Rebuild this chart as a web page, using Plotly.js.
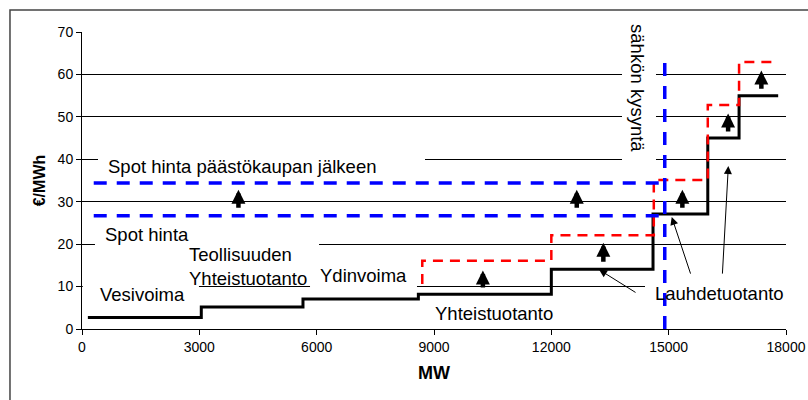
<!DOCTYPE html>
<html>
<head>
<meta charset="utf-8">
<script src="https://cdn.plot.ly/plotly-3.0.1.min.js"></script>
<style>html,body{margin:0;padding:0;background:#fff;}#chart{width:808px;height:400px;}</style>
</head>
<body>
<div id="chart"></div>
<script>
// ---- data ----
const xTickVals = [0, 3000, 6000, 9000, 12000, 15000, 18000];
const xTickText = ['0', '3000', '6000', '9000', '12000', '15000', '18000'];
const yTickVals = [0, 10, 20, 30, 40, 50, 60, 70];

// supply curve before emissions trading (step points, MW / €/MWh)
const supplyX = [150, 3050, 5650, 8600, 12000, 14600, 16000, 16800, 17800];
const supplyY = [2.7, 5.2, 7.1, 8.2, 14.1, 27.1, 45.0, 55.0, 55.0];

// supply curve after emissions trading
const emissionX = [8700, 12000, 14620, 16000, 16800, 17800];
const emissionY = [10.6, 16.1, 22.1, 35.1, 52.8, 62.9];

// spot prices and demand
const spotAfterX = [300, 14900];
const spotAfterY = [34.4, 34.4];
const spotX = [300, 14900];
const spotY = [26.7, 26.7];
const demandX = [14900, 14900];
const demandY = [0, 63];

// price-rise arrows: x, tail value, tip value
const riseX = [4000, 12650, 15350, 10250, 13330, 16520, 17370];
const riseFrom = [28.2, 28.2, 28.2, 9.4, 15.5, 46.2, 56.3];
const riseTo = [32.8, 32.8, 32.8, 13.8, 20.3, 50.8, 60.9];

// labels
const labels = ['Spot hinta päästökaupan jälkeen', 'Spot hinta', 'Teollisuuden<br>Yhteistuotanto',
  'Vesivoima', 'Ydinvoima', 'Yhteistuotanto', 'Lauhdetuotanto'];
const demandLabel = 'sähkön kysyntä';

// ---- chart ----
const FONT = 'Liberation Sans, Arial, sans-serif';

const traces = [
  {x: supplyX, y: supplyY, mode: 'lines', line: {shape: 'hv', color: '#000', width: 3}, hoverinfo: 'skip'},
  {x: emissionX, y: emissionY, mode: 'lines', line: {shape: 'vh', color: '#ff0000', width: 2.5, dash: '10px,7px'}, hoverinfo: 'skip'},
  {x: spotAfterX, y: spotAfterY, mode: 'lines', line: {color: '#0000ff', width: 3.5, dash: '13px,10px'}, hoverinfo: 'skip'},
  {x: spotX, y: spotY, mode: 'lines', line: {color: '#0000ff', width: 3.5, dash: '13px,10px'}, hoverinfo: 'skip'},
  {x: demandX, y: demandY, mode: 'lines', line: {color: '#0000ff', width: 3.5, dash: '13px,10px'}, hoverinfo: 'skip'}
];

// white text boxes that interrupt gridlines (below traces)
function mask(x0, x1, y0, y1) {
  return {type: 'rect', xref: 'x', yref: 'y', x0: x0, x1: x1, y0: y0, y1: y1,
    fillcolor: '#ffffff', line: {width: 0}, layer: 'between'};
}
const shapes = [
  mask(13807, 14676, 39, 72),
  mask(409, 8770, 36.5, 41.5),
  mask(332, 6060, 19, 21),
  mask(20, 2990, 9.2, 10.8),
  mask(5830, 8565, 9.2, 10.8),
  mask(14395, 18100, 9.2, 10.8),
  {type: 'rect', xref: 'paper', yref: 'paper', x0: -0.1023, x1: 1.04, y0: -0.26, y1: 1.0741,
    line: {color: '#444', width: 1.5}, fillcolor: 'rgba(0,0,0,0)', layer: 'above'}
];

const labelPos = [
  [614, 38.3], [537, 22.3], [2685, 14.65], [409, 8.23], [6034, 12.72], [8974, 3.59], [14600, 8.3]
];
const annotations = labels.map((t, i) => ({
  text: t, x: labelPos[i][0], y: labelPos[i][1], xref: 'x', yref: 'y',
  xanchor: 'left', yanchor: 'middle', align: 'left', showarrow: false,
  font: {family: FONT, size: 18.5, color: '#000'}
}));
annotations.push({
  text: demandLabel, x: 14203, y: 56.9, xref: 'x', yref: 'y', textangle: 90,
  xanchor: 'center', yanchor: 'middle', showarrow: false,
  font: {family: FONT, size: 18.5, color: '#000'}
});
riseX.forEach((x, i) => annotations.push({
  text: '', x: x, y: riseTo[i], ax: x, ay: riseFrom[i], xref: 'x', yref: 'y', axref: 'x', ayref: 'y',
  showarrow: true, arrowhead: 2, arrowwidth: 4.5, arrowsize: 0.62, arrowcolor: '#000'
}));
// thin pointer arrows: tail -> tip
const pointers = [
  [14191, 8.4, 13219, 14.0],
  [15572, 12.7, 15078, 26.4],
  [16372, 12.7, 16526, 38.4]
];
pointers.forEach(p => annotations.push({
  text: '', x: p[2], y: p[3], ax: p[0], ay: p[1], xref: 'x', yref: 'y', axref: 'x', ayref: 'y',
  showarrow: true, arrowhead: 2, arrowwidth: 1, arrowsize: 1.6, arrowcolor: '#000'
}));

const layout = {
  width: 808, height: 400,
  margin: {l: 82, r: 22, t: 32, b: 71},
  paper_bgcolor: '#ffffff', plot_bgcolor: '#ffffff',
  showlegend: false,
  font: {family: FONT, size: 14, color: '#000'},
  xaxis: {
    range: [0, 18000], tickvals: xTickVals, ticktext: xTickText,
    ticks: 'outside', ticklen: 5, tickcolor: '#000', tickwidth: 1,
    showline: true, linecolor: '#000', linewidth: 1,
    showgrid: false, zeroline: false, fixedrange: true,
    title: {text: '<b>MW</b>', font: {family: FONT, size: 18, color: '#000'}, standoff: 12}
  },
  yaxis: {
    range: [0, 70], tickvals: yTickVals,
    ticks: 'outside', ticklen: 5, tickcolor: '#000', tickwidth: 1,
    showline: true, linecolor: '#000', linewidth: 1,
    showgrid: true, gridcolor: '#000', gridwidth: 1, zeroline: false, fixedrange: true,
    title: {text: '<b>€/MWh</b>', font: {family: FONT, size: 16, color: '#000'}, standoff: 8}
  },
  shapes: shapes,
  annotations: annotations
};

Plotly.newPlot('chart', traces, layout, {staticPlot: true, displayModeBar: false});
</script>
</body>
</html>
